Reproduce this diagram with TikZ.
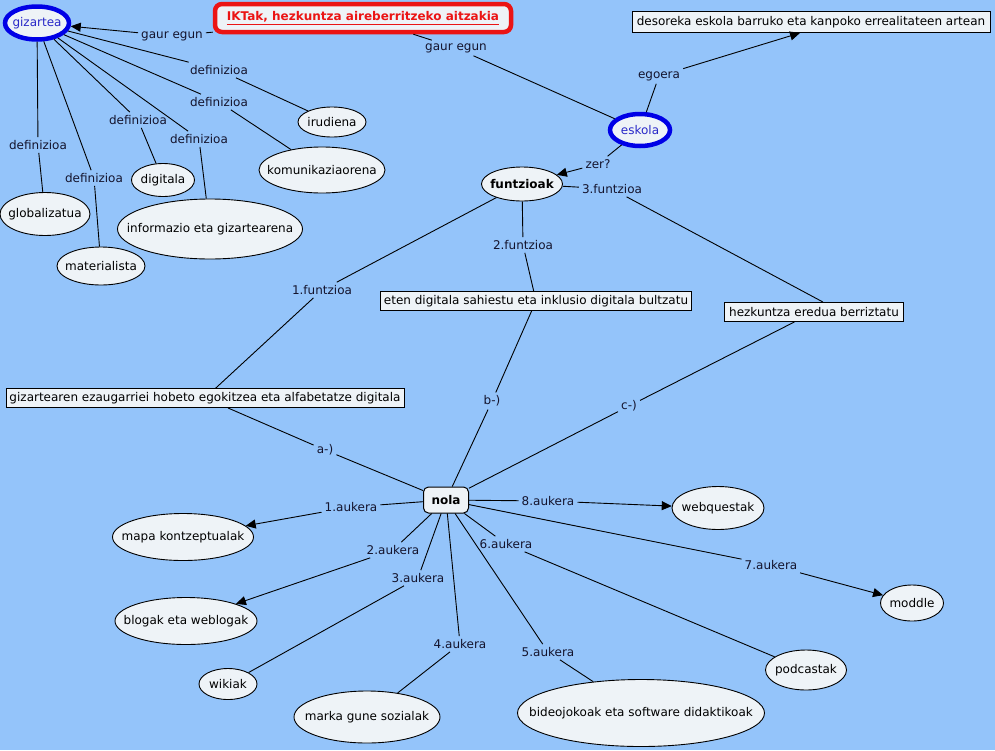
\documentclass[tikz,border=0pt]{standalone}
\usepackage{fontspec}
\setmainfont{DejaVu Sans}
\usetikzlibrary{shapes.geometric,arrows.meta,calc}
\definecolor{bg}{RGB}{148,196,250}
\definecolor{nodefill}{RGB}{238,243,247}
\definecolor{conceptblue}{RGB}{40,40,200}
\definecolor{ringblue}{RGB}{0,0,230}
\definecolor{titlered}{RGB}{235,20,20}
\definecolor{lbl}{RGB}{20,20,45}
\newcommand\zw[1]{\makebox[0pt]{#1}}
\begin{document}
\begin{tikzpicture}[x=1pt,y=-1pt,font=\fontsize{12}{14}\selectfont,
 ell/.style={ellipse,draw=black,fill=nodefill,line width=0.9pt,inner sep=0pt},
 box/.style={rectangle,draw=black,fill=nodefill,line width=0.9pt,inner sep=2pt,minimum height=19pt},
 bigell/.style={ellipse,draw=ringblue,line width=4.5pt,fill=nodefill,text=conceptblue,inner sep=0pt},
 lab/.style={inner sep=3pt,text=lbl},
 conn/.style={line width=0.9pt,draw=black},
 arr/.style={conn,-{Triangle[length=10pt,width=9pt]}}]
\fill[bg] (0,0) rectangle (995,750);
\useasboundingbox (0,0) rectangle (995,750);
% concepts
\node[bigell,minimum width=64pt,minimum height=33pt] (giz) at (37,23) {\zw{gizartea}};
\node[draw=titlered,line width=4.5pt,rounded corners=7pt,fill=nodefill,text=titlered,font=\fontsize{12}{14}\selectfont\bfseries,minimum width=296pt,minimum height=28pt] (title) at (363,18) {\underline{IKTak, hezkuntza aireberritzeko aitzakia}};
\node[box,minimum width=358pt,minimum height=21pt] (des) at (811,22) {desoreka eskola barruko eta kanpoko errealitateen artean};
\node[bigell,minimum width=60pt,minimum height=32pt] (esk) at (640,130) {\zw{eskola}};
\node[ell,minimum width=81pt,minimum height=34pt,font=\fontsize{12}{14}\selectfont\bfseries] (fun) at (522,184) {\zw{funtzioak}};
\node[ell,minimum width=68pt,minimum height=30pt] (iru) at (332,122) {\zw{irudiena}};
\node[ell,minimum width=126pt,minimum height=46pt] (kom) at (322,170) {\zw{komunikaziaorena}};
\node[ell,minimum width=63pt,minimum height=33pt] (dig) at (163,180) {\zw{digitala}};
\node[ell,minimum width=185pt,minimum height=60pt] (inf) at (210,229) {\zw{informazio eta gizartearena}};
\node[ell,minimum width=90pt,minimum height=43pt] (glo) at (45,214) {\zw{globalizatua}};
\node[ell,minimum width=88pt,minimum height=38pt] (mat) at (101,266) {\zw{materialista}};
\node[box,minimum width=311pt] (eten) at (536,301) {eten digitala sahiestu eta inklusio digitala bultzatu};
\node[box,minimum width=179pt] (hez) at (814,312) {hezkuntza eredua berriztatu};
\node[box,minimum width=398pt] (gbox) at (205,398) {gizartearen ezaugarriei hobeto egokitzea eta alfabetatze digitala};
\node[draw=black,fill=nodefill,line width=1pt,rounded corners=5pt,minimum width=45pt,minimum height=26pt,inner sep=2pt,font=\fontsize{12}{14}\selectfont\bfseries] (nola) at (446,500) {nola};
\node[ell,minimum width=92pt,minimum height=43pt] (web) at (718,508) {\zw{webquestak}};
\node[ell,minimum width=141pt,minimum height=47pt] (mapa) at (183,537) {\zw{mapa kontzeptualak}};
\node[ell,minimum width=142pt,minimum height=47pt] (blog) at (186,621) {\zw{blogak eta weblogak}};
\node[ell,minimum width=58pt,minimum height=31pt] (wiki) at (228,684) {\zw{wikiak}};
\node[ell,minimum width=146pt,minimum height=52pt] (mark) at (367,717) {\zw{marka gune sozialak}};
\node[ell,minimum width=247pt,minimum height=67pt] (bide) at (641,713) {\zw{bideojokoak eta software didaktikoak}};
\node[ell,minimum width=81pt,minimum height=40pt] (pod) at (806,670) {\zw{podcastak}};
\node[ell,minimum width=63pt,minimum height=36pt] (mod) at (912,603) {\zw{moddle}};
% link labels
\node[lab] (g1) at (172,36) {gaur egun};
\node[lab] (g2) at (456,48) {gaur egun};
\node[lab] (ego) at (659,76) {egoera};
\node[lab] (zer) at (598,164) {zer?};
\node[lab] (f3) at (612,189) {3.funtzioa};
\node[lab] (f2) at (523,245) {2.funtzioa};
\node[lab] (f1) at (322,290) {1.funtzioa};
\node[lab] (la) at (325,450) {a-)};
\node[lab] (lb) at (492,401) {b-)};
\node[lab] (lc) at (629,406) {c-)};
\node[lab] (d1) at (219,70) {definizioa};
\node[lab] (d2) at (219,102) {definizioa};
\node[lab] (d3) at (138,120) {definizioa};
\node[lab] (d4) at (199,139) {definizioa};
\node[lab] (d5) at (38,145) {definizioa};
\node[lab] (d6) at (94,178) {definizioa};
\node[lab] (k1) at (351,507) {1.aukera};
\node[lab] (k2) at (393,550) {2.aukera};
\node[lab] (k3) at (418,578) {3.aukera};
\node[lab] (k4) at (460,644) {4.aukera};
\node[lab] (k5) at (548,652) {5.aukera};
\node[lab] (k6) at (506,544) {6.aukera};
\node[lab] (k7) at (771,565) {7.aukera};
\node[lab] (k8) at (548,501) {8.aukera};
% connectors
\draw[conn] (title) -- (g1); \draw[arr] (g1) -- (giz);
\draw[conn] (title) -- (g2); \draw[conn] (g2) -- (esk);
\draw[conn] (esk) -- (ego); \draw[arr] (ego) -- ($(des.south)+(-11,0)$);
\draw[conn] (esk) -- (zer); \draw[arr] (zer) -- (fun);
\draw[conn] (fun) -- (f3); \draw[conn] (f3) -- ($(hez.north)+(9,0)$);
\draw[conn] (fun) -- (f2); \draw[conn] (f2) -- (eten);
\draw[conn] (fun) -- (f1); \draw[conn] (f1) -- (gbox);
\draw[conn] (gbox) -- (la); \draw[conn] (la) -- (nola);
\draw[conn] (eten) -- (lb); \draw[conn] (lb) -- (nola);
\draw[conn] (hez) -- (lc); \draw[conn] (lc) -- (nola);
\draw[conn] (giz) -- (d1); \draw[conn] (d1) -- (iru);
\draw[conn] (giz) -- (d2); \draw[conn] (d2) -- (kom);
\draw[conn] (giz) -- (d3); \draw[conn] (d3) -- (dig);
\draw[conn] (giz) -- (d4); \draw[conn] (d4) -- (inf);
\draw[conn] (giz) -- (d5); \draw[conn] (d5) -- (glo);
\draw[conn] (giz) -- (d6); \draw[conn] (d6) -- (mat);
\draw[conn] (nola) -- (k1); \draw[arr] (k1) -- (mapa);
\draw[conn] (nola) -- (k2); \draw[arr] (k2) -- (blog);
\draw[conn] (nola) -- (k3); \draw[conn] (k3) -- (wiki);
\draw[conn] (nola) -- (k4); \draw[conn] (k4) -- (mark);
\draw[conn] (nola) -- (k5); \draw[conn] (k5) -- (bide);
\draw[conn] (nola) -- (k6); \draw[conn] (k6) -- (pod);
\draw[conn] (nola) -- (k7); \draw[arr] (k7) -- (mod);
\draw[conn] (nola) -- (k8); \draw[arr] (k8) -- (web);
\end{tikzpicture}
\end{document}
